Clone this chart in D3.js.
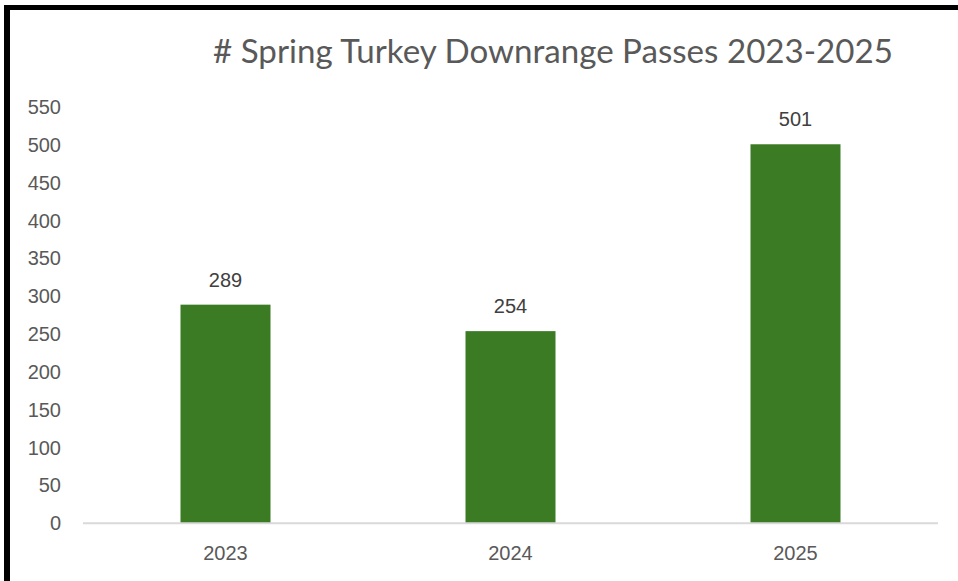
<!DOCTYPE html>
<html>
<head>
<meta charset="utf-8">
<script src="https://cdn.jsdelivr.net/npm/d3@7"></script>
<style>
  html, body { margin: 0; padding: 0; background: #fff; }
  svg { display: block; }
</style>
</head>
<body>
<svg id="chart" width="958" height="581"></svg>
<script>
const title = "# Spring Turkey Downrange Passes 2023-2025";
const categories = ["2023", "2024", "2025"];
const values = [289, 254, 501];
const yTicks = [0, 50, 100, 150, 200, 250, 300, 350, 400, 450, 500, 550];

const W = 958, H = 581;
const svg = d3.select("#chart");

svg.append("rect").attr("x", 0).attr("y", 0).attr("width", W).attr("height", H).attr("fill", "#fff");

// frame (top and left black border)
svg.append("rect").attr("x", 4).attr("y", 5).attr("width", W - 4).attr("height", 5).attr("fill", "#000");
svg.append("rect").attr("x", 4).attr("y", 5).attr("width", 6).attr("height", H - 5).attr("fill", "#000");

const plot = { left: 83, right: 938, top: 107.2, bottom: 523.3 };

const x = d3.scaleBand().domain(categories).range([plot.left, plot.right]).padding(0);
const y = d3.scaleLinear().domain([0, 550]).range([plot.bottom, plot.top]);
const barW = 90;

// bars
svg.append("g").selectAll("rect").data(values).join("rect")
  .attr("x", (d, i) => x(categories[i]) + x.bandwidth() / 2 - barW / 2)
  .attr("y", d => y(d))
  .attr("width", barW)
  .attr("height", d => y(0) - y(d))
  .attr("fill", "#3b7b24");

// baseline
svg.append("line")
  .attr("x1", plot.left).attr("x2", plot.right)
  .attr("y1", y(0)).attr("y2", y(0))
  .attr("stroke", "#d9d9d9").attr("stroke-width", 2);

// y axis labels
const yAxis = d3.axisLeft(y).tickValues(yTicks).tickSize(0).tickPadding(0);
const gy = svg.append("g").attr("transform", "translate(61,0)").call(yAxis);
gy.select(".domain").remove();
gy.selectAll("text")
  .attr("font-family", "'Liberation Sans', Arial, sans-serif")
  .attr("font-size", 20).attr("fill", "#595959");

// x axis labels
const xAxis = d3.axisBottom(x).tickSize(0).tickPadding(0);
const gx = svg.append("g").attr("transform", "translate(0,546)").call(xAxis);
gx.select(".domain").remove();
gx.selectAll("text")
  .attr("font-family", "'Liberation Sans', Arial, sans-serif")
  .attr("font-size", 20).attr("fill", "#595959");

// data labels
svg.append("g").selectAll("text").data(values).join("text")
  .attr("x", (d, i) => x(categories[i]) + x.bandwidth() / 2)
  .attr("y", d => y(d) - 18)
  .attr("text-anchor", "middle")
  .attr("font-family", "'Liberation Sans', Arial, sans-serif")
  .attr("font-size", 20).attr("fill", "#404040")
  .text(d => d);

// title
const t = svg.append("text")
  .attr("x", 553).attr("y", 63)
  .attr("text-anchor", "middle")
  .attr("font-family", "Lato, 'Open Sans', sans-serif")
  .attr("font-size", 30).attr("fill", "#595959")
  .text(title);
const len = t.node().getComputedTextLength();
t.attr("font-size", 30 * 680 / len);
</script>
</body>
</html>
